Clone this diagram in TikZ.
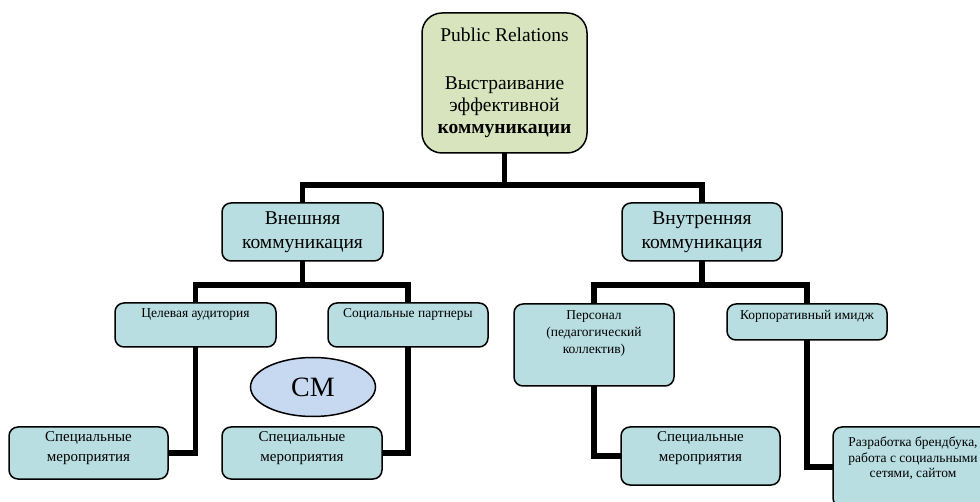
\documentclass[tikz,border=0pt]{standalone}
\usepackage{fontspec}
\setmainfont{Liberation Serif}
\usetikzlibrary{shapes.geometric,backgrounds}
\definecolor{rootfill}{HTML}{D7E4BD}
\definecolor{boxfill}{HTML}{B8DEE2}
\definecolor{ellfill}{HTML}{C6D9F1}
\newcommand{\bxt}[4]{\parbox[c][#2][t]{#1}{\centering\vspace*{#3}#4\par}}
\newcommand{\bxc}[3]{\parbox[c][#2][c]{#1}{\centering #3\par}}
\tikzset{
  box/.style={draw=black, line width=1.5pt, fill=boxfill, rounded corners=9pt, inner sep=0pt, outer sep=0pt, anchor=north west},
  rootbox/.style={box, fill=rootfill, rounded corners=20pt},
  conn/.style={draw=black, line width=5.5pt},
  froot/.style={font=\fontsize{19.5}{22}\selectfont},
  fbig/.style={font=\fontsize{19.5}{24.5}\selectfont},
  fsmall/.style={font=\fontsize{13.5}{17}\selectfont},
  fspec/.style={font=\fontsize{15}{20}\selectfont},
  frazr/.style={font=\fontsize{13.5}{15.5}\selectfont}
}
\begin{document}
\begin{tikzpicture}[x=1pt,y=-1pt]
\useasboundingbox (0,0) rectangle (980,502);
\clip (0,0) rectangle (980,502);
% level 0
\node[rootbox, froot] (root) at (422,13) {\bxc{165pt}{140pt}{Public Relations\\[26pt]Выстраивание\\эффективной\\\textbf{коммуникации}}};
% level 1
\node[box, fbig] (ext) at (222,203) {\bxc{161pt}{58pt}{Внешняя\\коммуникация}};
\node[box, fbig] (int) at (622,203) {\bxc{160pt}{58pt}{Внутренняя\\коммуникация}};
% level 2
\node[box, fsmall] (ct) at (115,303) {\bxt{161pt}{44pt}{6pt}{Целевая аудитория}};
\node[box, fsmall] (sp) at (328,303) {\bxt{160pt}{44pt}{6pt}{Социальные партнеры}};
\node[box, fsmall] (pers) at (514,304) {\bxt{160pt}{82pt}{7pt}{Персонал\\(педагогический\\коллектив)}};
\node[box, fsmall] (korp) at (727,304) {\bxt{160pt}{36pt}{6pt}{Корпоративный имидж}};
% level 3
\node[box, fspec] (s1) at (9,427) {\bxt{159pt}{52pt}{5pt}{Специальные\\мероприятия}};
\node[box, fspec] (s2) at (222,427) {\bxt{160pt}{52pt}{5pt}{Специальные\\мероприятия}};
\node[box, fspec] (s3) at (621,427) {\bxt{159pt}{58pt}{5pt}{Специальные\\мероприятия}};
\node[box, frazr] (razr) at (833,427) {\bxt{160pt}{80pt}{10pt}{Разработка брендбука,\\работа с социальными\\сетями, сайтом}};
% ellipse
\node[ellipse, draw=black, line width=1.5pt, fill=ellfill, minimum width=125pt, minimum height=59pt, inner sep=0pt, font=\fontsize{28}{30}\selectfont] (cm) at (313,387) {СМ};
% connectors
\path (root.south) ++(0,32) coordinate (j0);
\path (ext.south) ++(0,24) coordinate (j1);
\path (int.south) ++(0,24) coordinate (j2);
\begin{pgfonlayer}{background}
\draw[conn] (root.south) -- (j0);
\draw[conn] (ext.north) |- (j0) -| (int.north);
\draw[conn] (ext.south) -- (j1);
\draw[conn] (ct.north) |- (j1) -| (sp.north);
\draw[conn] (int.south) -- (j2);
\draw[conn] (pers.north) |- (j2) -| (korp.north);
\draw[conn] (ct.south) |- (s1.east);
\draw[conn] (sp.south) |- (s2.east);
\draw[conn] (pers.south) |- (s3.west);
\draw[conn] (korp.south) |- (razr.west);
\end{pgfonlayer}
\end{tikzpicture}
\end{document}
